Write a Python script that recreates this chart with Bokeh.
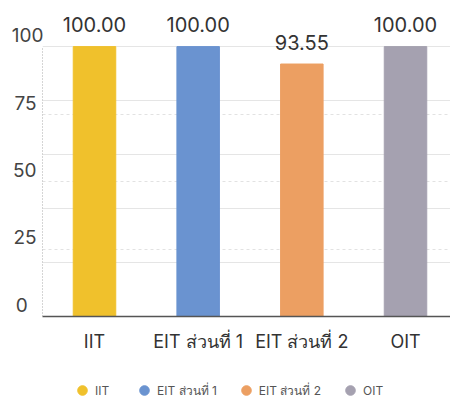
from bokeh.plotting import figure
from bokeh.models import ColumnDataSource, Range1d, FixedTicker, Legend, LegendItem, LinearAxis, Grid
from bokeh.layouts import column
from bokeh.embed import file_html
from bokeh.resources import INLINE
from bokeh.core.properties import value

categories = ["IIT", "EIT ส่วนที่ 1", "EIT ส่วนที่ 2", "OIT"]
scores = [100.00, 100.00, 93.55, 100.00]
score_labels = ["100.00", "100.00", "93.55", "100.00"]
colors = ["#F0C12C", "#6A93D0", "#EC9F62", "#A5A1B0"]
y_ticks = [0, 25, 50, 75, 100]
y_tick_labels = ["0\u2007\u2009", "25\u2009\u2009", "50\u2009\u2009", "75\u2009\u2009", "100"]

FONT = "Inter"
xpos = list(range(len(categories)))

Y_END = 111.9
LABEL_SHIFT = 4.1  # tick labels sit a little above their gridlines

src = ColumnDataSource(dict(x=xpos, top=scores, lab=score_labels, color=colors, cat=categories))

p = figure(width=450, height=360, output_backend="svg", toolbar_location=None,
           x_range=Range1d(-0.5016, 3.434), y_range=Range1d(0, Y_END),
           y_axis_location=None,
           min_border_left=42, min_border_right=0, min_border_top=14, min_border_bottom=44)
p.outline_line_color = None
p.background_fill_color = "white"

grid = Grid(dimension=1, ticker=FixedTicker(ticks=y_ticks[:-1]), grid_line_color="#e2e2e2",
            grid_line_dash="3 3")
p.add_layout(grid)

p.vbar(x="x", top="top", width=0.41, color="color", source=src)
p.text(x="x", y="top", text="lab", source=src, text_align="center", text_baseline="middle",
       y_offset=-22, text_font=value(FONT), text_font_size="20px", text_color="#333333")

# x axis
p.xaxis.ticker = FixedTicker(ticks=xpos)
p.xaxis.major_label_overrides = {i: c for i, c in zip(xpos, categories)}
p.xaxis.major_tick_line_color = None
p.xaxis.minor_tick_line_color = None
p.xaxis.axis_line_color = "#555555"
p.xaxis.axis_line_width = 1.5
p.xaxis.major_label_text_font = FONT
p.xaxis.major_label_text_font_size = "18px"
p.xaxis.major_label_text_color = "#333333"
p.xaxis.major_label_standoff = 8
p.xgrid.grid_line_color = None

# y axis line only over 0..100
yline = LinearAxis(ticker=FixedTicker(ticks=[]), bounds=(0, 100))
yline.axis_line_color = "#aaaaaa"
yline.axis_line_dash = "1 2"
yline.major_tick_line_color = None
yline.minor_tick_line_color = None
yline.major_label_standoff = 0
p.add_layout(yline, "left")

# y tick labels on a slightly shifted range so they sit above their gridlines
p.extra_y_ranges = {"lab": Range1d(0 - LABEL_SHIFT, Y_END - LABEL_SHIFT)}
yax = LinearAxis(y_range_name="lab", ticker=FixedTicker(ticks=y_ticks))
yax.major_label_overrides = {t: s for t, s in zip(y_ticks, y_tick_labels)}
yax.axis_line_color = None
yax.major_tick_line_color = None
yax.minor_tick_line_color = None
yax.major_label_text_font = FONT
yax.major_label_text_font_size = "19px"
yax.major_label_text_color = "#444444"
yax.major_label_standoff = -7
p.add_layout(yax, "left")

# legend strip
lf = figure(width=450, height=40, output_backend="svg", toolbar_location=None,
            x_range=Range1d(0, 1), y_range=Range1d(0, 1),
            x_axis_location=None, y_axis_location=None,
            min_border_left=0, min_border_right=0, min_border_top=0, min_border_bottom=0)
lf.outline_line_color = None
lf.grid.visible = False
sc = lf.scatter(x="x", y="top", size=0, color="color", source=src)
items = [LegendItem(label=c, renderers=[sc], index=i) for i, c in enumerate(categories)]
legend = Legend(items=items, orientation="horizontal", location=(28, -2),
                glyph_width=24, glyph_height=24, label_standoff=1, spacing=17,
                padding=0, margin=0, border_line_color=None, background_fill_alpha=0,
                label_text_font=FONT, label_text_font_size="12px", label_text_color="#555555")
lf.add_layout(legend, "center")

layout = column(p, lf, spacing=0)
open("out.html", "w").write(file_html(layout, INLINE))
